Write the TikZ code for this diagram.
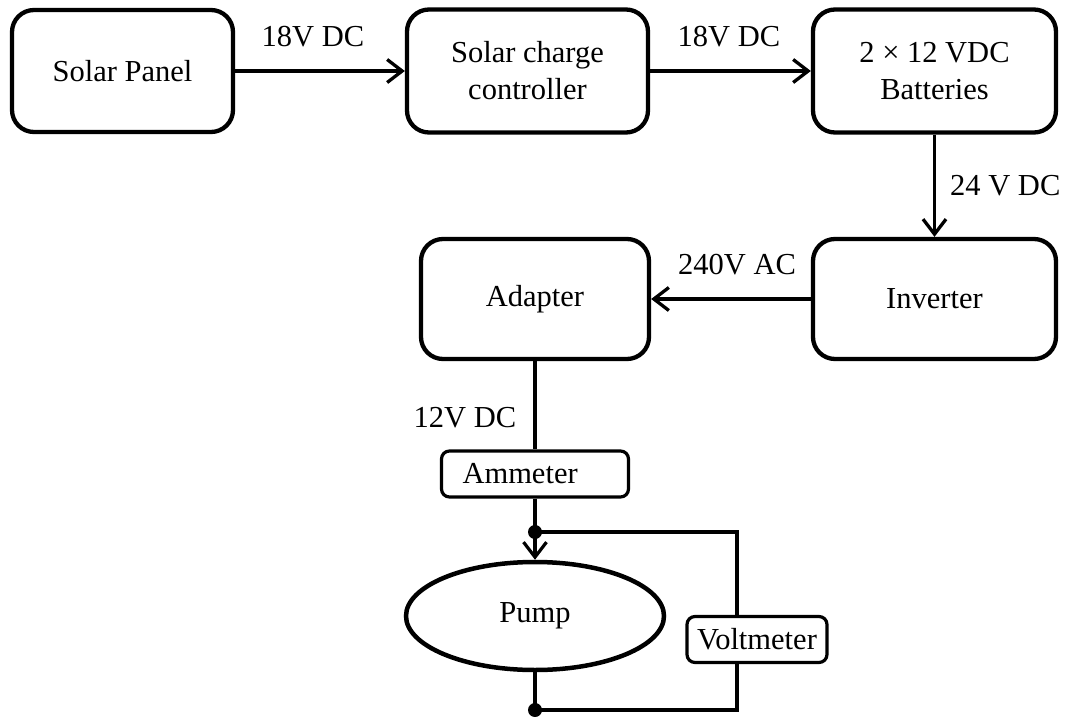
\documentclass[tikz,border=0pt]{standalone}
\usepackage{fontspec}
\setmainfont{Liberation Serif}
\usetikzlibrary{arrows.meta,shapes.geometric}
\begin{document}
\begin{tikzpicture}[x=1pt,y=-1pt,
  font=\fontsize{30.5}{37}\selectfont,
  block/.style={draw,line width=4.3pt,rounded corners=22pt,inner sep=0pt,align=center},
  meter/.style={draw,line width=3.2pt,rounded corners=8pt,inner sep=0pt,minimum height=46pt},
  flow/.style={line width=3.3pt,-{Straight Barb[length=15pt,width=23pt]}},
  wire/.style={line width=3.2pt},
  lbl/.style={inner sep=0pt},
  dot/.style={circle,fill,inner sep=0pt,minimum size=14pt}]
\useasboundingbox (0,0) rectangle (1069,717);

% source chain
\node[block,minimum width=221pt,minimum height=122pt] (sp)  at (122.5,71) {Solar Panel};
\node[block,minimum width=241pt,minimum height=123pt] (scc) at (527.5,71) {Solar charge\\controller};
\node[block,minimum width=243pt,minimum height=123pt] (bat) at (934.5,71) {2 × 12 VDC\\Batteries};
\node[block,minimum width=243pt,minimum height=120pt] (inv) at (934.5,299) {Inverter};
\node[block,minimum width=228pt,minimum height=120pt] (adp) at (535,299) {Adapter};

\draw[flow] (sp) -- (scc);
\draw[flow] (scc) -- (bat);
\draw[flow] (bat) -- (inv);
\draw[flow] (inv) -- (adp);

\node[lbl] (l1) at (313,37) {18V DC};
\node[lbl] (l2) at (729,37) {18V DC};
\node[lbl,anchor=west] (l3) at (950,186) {24 V DC};
\node[lbl] (l4) at (737,265) {240V AC};
\node[lbl] (l5) at (465,418) {12V DC};

% measuring circuit
\node[meter,text width=145pt,inner xsep=21pt,align=left] (amm) at (535,474) {Ammeter};
\node[draw,ellipse,line width=4.5pt,minimum width=258pt,minimum height=108pt,inner sep=0pt] (pump) at (535,616) {Pump};
\node[meter,minimum width=140pt] (vm) at (757,639.5) {Voltmeter};

\node[dot] (j1) at (535,532) {};
\node[dot] (j2) at (535,710) {};
\coordinate (c1) at (737,532);
\coordinate (c2) at (737,710);

\draw[wire] (adp.south) -- (amm.north);
\draw[wire] (amm.south) -- (j1.center);
\draw[flow,line width=3.2pt] (j1.center) -- (pump.north);
\draw[wire] (pump.south) -- (j2.center);
\draw[wire] (j1.center) -- (c1) -- (c1 |- vm.north);
\draw[wire] (c1 |- vm.south) -- (c2) -- (j2.center);
\end{tikzpicture}
\end{document}
